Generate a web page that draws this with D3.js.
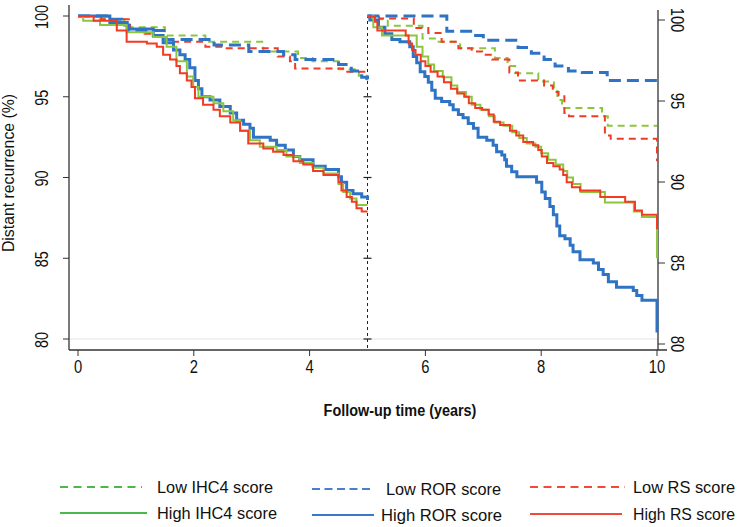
<!DOCTYPE html>
<html>
<head>
<meta charset="utf-8">
<script src="https://cdn.jsdelivr.net/npm/d3@7"></script>
<style>
  body { margin: 0; background: #fff; }
  text { font-family: "Liberation Sans", Arial, sans-serif; fill: #111; }
</style>
</head>
<body>
<div id="viz"></div>
<script>
// tick labels
var xTicks = [0, 2, 4, 6, 8, 10];
var yTicks = [80, 85, 90, 95, 100];
var dividerTicks = [80, 85, 90, 95];

// Kaplan-Meier steps [year, % free of distant recurrence], years 0-5
var lowIHC4First = [[0,100],[0.3,99.8],[0.8,99.3],[1.5,98.8],[2.2,98.4],[3.2,97.8],[3.8,97.4],[4.05,97.2],[4.5,96.7],[4.85,96.3],[5,96.0]];
var lowRORFirst = [[0,100],[0.55,99.8],[0.75,99.45],[0.88,99.1],[1.52,98.55],[2.35,98.2],[2.95,97.8],[3.55,97.6],[3.75,97.3],[4.5,97.0],[4.72,96.6],[4.9,96.2],[5,96.1]];
var lowRSFirst = [[0,100],[0.4,99.8],[0.9,99.2],[1.15,98.9],[1.3,98.7],[1.52,98.4],[2.2,98.1],[2.5,98.0],[3.45,97.5],[3.66,97.2],[3.75,96.75],[4.58,96.55],[4.98,96.1],[5,96.1]];
var highIHC4First = [[0,100],[0.09,99.7],[0.38,99.45],[0.84,99.0],[1.30,98.7],[1.53,98.1],[1.70,97.2],[1.88,96.25],[1.99,95.6],[2.08,95.0],[2.34,94.6],[2.51,94.1],[2.68,93.55],[2.80,92.9],[2.97,92.3],[3.14,91.9],[3.43,91.7],[3.60,91.3],[3.83,90.9],[4.06,90.6],[4.24,90.25],[4.50,89.6],[4.58,89.1],[4.70,88.7],[4.81,88.3],[5,88.3]];
var highRORFirst = [[0,100],[0.55,99.6],[0.85,99.2],[1.30,98.8],[1.47,98.35],[1.65,97.9],[1.76,97.6],[1.85,97.3],[1.93,96.8],[2.02,96.0],[2.08,95.5],[2.14,95.0],[2.28,94.8],[2.45,94.4],[2.63,94.0],[2.74,93.55],[2.86,93.3],[2.97,93.05],[3.03,92.5],[3.32,92.3],[3.43,92.0],[3.58,91.7],[3.72,91.3],[3.83,91.1],[4.06,90.7],[4.27,90.5],[4.50,90.05],[4.55,89.7],[4.64,89.2],[4.75,89.0],[4.90,88.8],[5,88.6]];
var highRSFirst = [[0,100],[0.27,99.7],[0.67,99.1],[0.84,98.4],[1.19,98.3],[1.36,98.1],[1.47,97.6],[1.59,97.3],[1.70,96.9],[1.76,96.45],[1.88,96.0],[1.96,95.6],[2.02,94.9],[2.16,94.5],[2.34,94.2],[2.45,93.8],[2.63,93.4],[2.80,92.9],[2.94,92.1],[3.20,91.8],[3.37,91.6],[3.55,91.4],[3.72,91.0],[3.89,90.8],[4.06,90.4],[4.24,90.15],[4.50,89.7],[4.55,89.2],[4.64,88.8],[4.73,88.5],[4.81,88.1],[4.90,87.9],[5,87.9]];

// conditional curves, years 5-10
var lowIHC4Second = [[5,100],[5.2,99.8],[5.35,99.4],[5.95,98.6],[6.2,98.4],[6.6,98.0],[7.2,97.4],[7.42,96.9],[7.55,96.45],[7.95,95.95],[8.22,95.5],[8.28,94.8],[8.36,94.3],[9.05,93.8],[9.15,93.2],[10,93.2]];
var lowRORSecond = [[5,100],[6.37,99.05],[6.84,98.8],[7.0,98.5],[7.6,98.05],[7.83,97.7],[8.05,97.3],[8.24,96.9],[8.47,96.6],[8.71,96.5],[9.14,96.0],[10,96.0]];
var lowRSSecond = [[5,100],[5.2,99.85],[5.8,99.25],[6.05,98.95],[6.28,98.4],[6.57,98.0],[6.8,97.8],[6.98,97.6],[7.15,97.3],[7.45,96.5],[7.6,96.0],[8.05,95.7],[8.2,95.3],[8.3,95.1],[8.4,94.0],[8.48,93.8],[9.1,92.6],[9.2,92.4],[10,91.0]];
var highIHC4Second = [[5,100],[5.1,99.3],[5.25,98.8],[5.85,98.1],[5.95,97.5],[6.05,97.0],[6.15,96.6],[6.3,96.2],[6.45,95.7],[6.55,95.3],[6.7,95.0],[6.8,94.5],[6.95,94.2],[7.1,93.8],[7.2,93.4],[7.35,93.2],[7.5,92.8],[7.62,92.45],[7.75,92.1],[7.9,91.9],[8.0,91.5],[8.12,91.1],[8.25,90.8],[8.38,90.4],[8.45,90.0],[8.55,89.6],[8.68,89.1],[9.1,88.45],[9.6,87.9],[9.74,87.55],[10,85.0]];
var highRORSecond = [[5,100],[5.04,99.75],[5.19,99.3],[5.30,98.9],[5.42,98.55],[5.56,98.4],[5.73,98.1],[5.79,97.5],[5.85,97.1],[5.91,96.55],[5.99,96.25],[6.05,95.9],[6.11,95.4],[6.17,94.9],[6.28,94.7],[6.42,94.5],[6.48,94.2],[6.57,93.9],[6.65,93.7],[6.74,93.35],[6.83,93.05],[6.91,92.5],[7.06,92.3],[7.17,92.0],[7.23,91.6],[7.32,91.4],[7.37,91.1],[7.40,90.7],[7.49,90.35],[7.58,90.05],[7.92,89.7],[8.01,89.1],[8.07,88.7],[8.15,88.2],[8.21,87.7],[8.27,87.0],[8.32,86.4],[8.41,86.2],[8.50,85.8],[8.55,85.4],[8.67,84.9],[8.90,84.7],[8.99,84.3],[9.07,84.0],[9.16,83.55],[9.30,83.2],[9.59,83.0],[9.65,82.7],[9.74,82.4],[10,80.4]];
var highRSSecond = [[5,100],[5.07,99.95],[5.13,99.65],[5.17,99.1],[5.66,98.8],[5.71,98.3],[5.77,97.9],[5.83,97.6],[5.92,97.2],[6.00,96.9],[6.09,96.55],[6.21,96.25],[6.32,95.9],[6.44,95.5],[6.55,95.2],[6.67,95.0],[6.75,94.6],[6.86,94.3],[6.98,94.2],[7.09,93.9],[7.18,93.45],[7.29,93.25],[7.46,92.9],[7.57,92.6],[7.69,92.2],[7.86,92.0],[7.95,91.7],[8.01,91.3],[8.10,90.9],[8.21,90.7],[8.32,90.5],[8.38,90.15],[8.44,89.7],[8.53,89.4],[8.67,89.2],[9.02,88.8],[9.45,88.5],[9.62,87.95],[9.74,87.7],[10,86.8]];

var legendLabels = ["Low IHC4 score", "High IHC4 score", "Low ROR score", "High ROR score", "Low RS score", "High RS score"];

var width = 742, height = 527;
var svg = d3.select("#viz").append("svg")
  .attr("width", width)
  .attr("height", height);

// squeeze text horizontally so it looks like a narrow face
function squeeze(sel, k) {
  sel.each(function () {
    var len = this.getComputedTextLength();
    d3.select(this).attr("textLength", len * k).attr("lengthAdjust", "spacingAndGlyphs");
  });
}

var x = d3.scaleLinear().domain([0, 10]).range([78, 657]);
var y = d3.scaleLinear().domain([80, 100]).range([339, 16]);
var yRight = d3.scaleLinear().domain([80, 100]).range([344, 20]);

// light line at 80%
svg.append("line")
  .attr("x1", 69).attr("x2", 658)
  .attr("y1", y(80)).attr("y2", y(80))
  .attr("stroke", "#e2e2e2").attr("stroke-width", 1);

// left axis
var left = svg.append("g").attr("transform", "translate(69,0)");
left.append("line").attr("y1", 5).attr("y2", 350).attr("stroke", "#333").attr("stroke-width", 1.3);
yTicks.forEach(function (v) {
  left.append("line").attr("x1", -6).attr("x2", 0).attr("y1", y(v)).attr("y2", y(v))
    .attr("stroke", "#333");
  left.append("text")
    .attr("transform", "translate(-21," + (y(v) + 1) + ") rotate(-90)")
    .attr("text-anchor", "middle")
    .style("font-size", "18px")
    .text(v)
    .call(squeeze, 0.8);
});

// right axis
var right = svg.append("g").attr("transform", "translate(658,0)");
right.append("line").attr("y1", 10).attr("y2", 350).attr("stroke", "#333").attr("stroke-width", 1.3);
yTicks.forEach(function (v) {
  right.append("line").attr("x1", 0).attr("x2", 7).attr("y1", yRight(v)).attr("y2", yRight(v))
    .attr("stroke", "#333");
  right.append("text")
    .attr("transform", "translate(13," + yRight(v) + ") rotate(90)")
    .attr("text-anchor", "middle")
    .style("font-size", "18px")
    .text(v)
    .call(squeeze, 0.82);
});

// bottom axis
var bottom = svg.append("g").attr("transform", "translate(0,350)");
bottom.append("line").attr("x1", 69).attr("x2", 667).attr("stroke", "#333").attr("stroke-width", 1.5);
xTicks.forEach(function (t) {
  bottom.append("line").attr("x1", x(t)).attr("x2", x(t)).attr("y1", 0).attr("y2", 6).attr("stroke", "#333");
  bottom.append("text")
    .attr("x", x(t)).attr("y", 23)
    .attr("text-anchor", "middle")
    .style("font-size", "18px")
    .text(t)
    .call(squeeze, 0.82);
});

// dotted divider at 5 years
var divider = svg.append("g").attr("transform", "translate(" + x(5) + ",0)");
divider.append("line").attr("y1", 15).attr("y2", 350)
  .attr("stroke", "#222").attr("stroke-width", 1).attr("stroke-dasharray", "3,3");
dividerTicks.forEach(function (v) {
  divider.append("line").attr("x1", -4).attr("x2", 4).attr("y1", y(v)).attr("y2", y(v))
    .attr("stroke", "#222").attr("stroke-width", 1.2);
});

// axis titles
svg.append("text")
  .attr("transform", "translate(14,173) rotate(-90)")
  .attr("text-anchor", "middle")
  .style("font-size", "17px")
  .text("Distant recurrence (%)")
  .call(squeeze, 0.93);

svg.append("text")
  .attr("x", 400).attr("y", 416)
  .attr("text-anchor", "middle")
  .style("font-size", "16px")
  .style("font-weight", "bold")
  .text("Follow-up time (years)")
  .call(squeeze, 0.9);

// curves
var green = "#8cc63f", blue = "#2f73c4", red = "#f23b24";
var line = d3.line()
  .x(function (d) { return x(d[0]); })
  .y(function (d) { return y(d[1]); })
  .curve(d3.curveStepAfter);

var curves = [
  { data: lowIHC4First, color: green, w: 2, dash: "7,5" },
  { data: lowIHC4Second, color: green, w: 2, dash: "7,5" },
  { data: lowRSFirst, color: red, w: 2, dash: "7,5" },
  { data: lowRSSecond, color: red, w: 2, dash: "7,5" },
  { data: lowRORFirst, color: blue, w: 3, dash: "12,6" },
  { data: lowRORSecond, color: blue, w: 3, dash: "12,6" },
  { data: highRORFirst, color: blue, w: 3, dash: null },
  { data: highRORSecond, color: blue, w: 3, dash: null },
  { data: highIHC4First, color: green, w: 2, dash: null },
  { data: highIHC4Second, color: green, w: 2, dash: null },
  { data: highRSFirst, color: red, w: 2, dash: null },
  { data: highRSSecond, color: red, w: 2, dash: null }
];

curves.forEach(function (c) {
  svg.append("path")
    .datum(c.data)
    .attr("class", "line")
    .attr("d", line)
    .attr("fill", "none")
    .attr("stroke", c.color)
    .attr("stroke-width", c.w)
    .attr("stroke-dasharray", c.dash);
});

// legend
var legendItems = [
  { label: legendLabels[0], color: "#4cb84c", dash: "8,5.5", x1: 60, x2: 142, tx: 157, ty: 488, w: 116 },
  { label: legendLabels[1], color: "#4cb84c", dash: null, x1: 60, x2: 147, tx: 157, ty: 514, w: 120 },
  { label: legendLabels[2], color: "#4a7fd0", dash: "8,4.5", x1: 312, x2: 374, tx: 386, ty: 490, w: 115 },
  { label: legendLabels[3], color: "#3a78c9", dash: null, x1: 312, x2: 374, tx: 381, ty: 516, w: 121 },
  { label: legendLabels[4], color: "#f04a3a", dash: "8,5.5", x1: 530, x2: 625, tx: 633, ty: 488, w: 102 },
  { label: legendLabels[5], color: "#f04a3a", dash: null, x1: 530, x2: 622, tx: 633, ty: 515, w: 102 }
];
var legend = svg.append("g");
legendItems.forEach(function (d) {
  legend.append("line")
    .attr("x1", d.x1).attr("x2", d.x2)
    .attr("y1", d.ty - 1).attr("y2", d.ty - 1)
    .attr("stroke", d.color).attr("stroke-width", 2)
    .attr("stroke-dasharray", d.dash);
  legend.append("text")
    .attr("x", d.tx).attr("y", d.ty + 5)
    .style("font-size", "17px")
    .attr("textLength", d.w)
    .attr("lengthAdjust", "spacingAndGlyphs")
    .text(d.label);
});
</script>
</body>
</html>
